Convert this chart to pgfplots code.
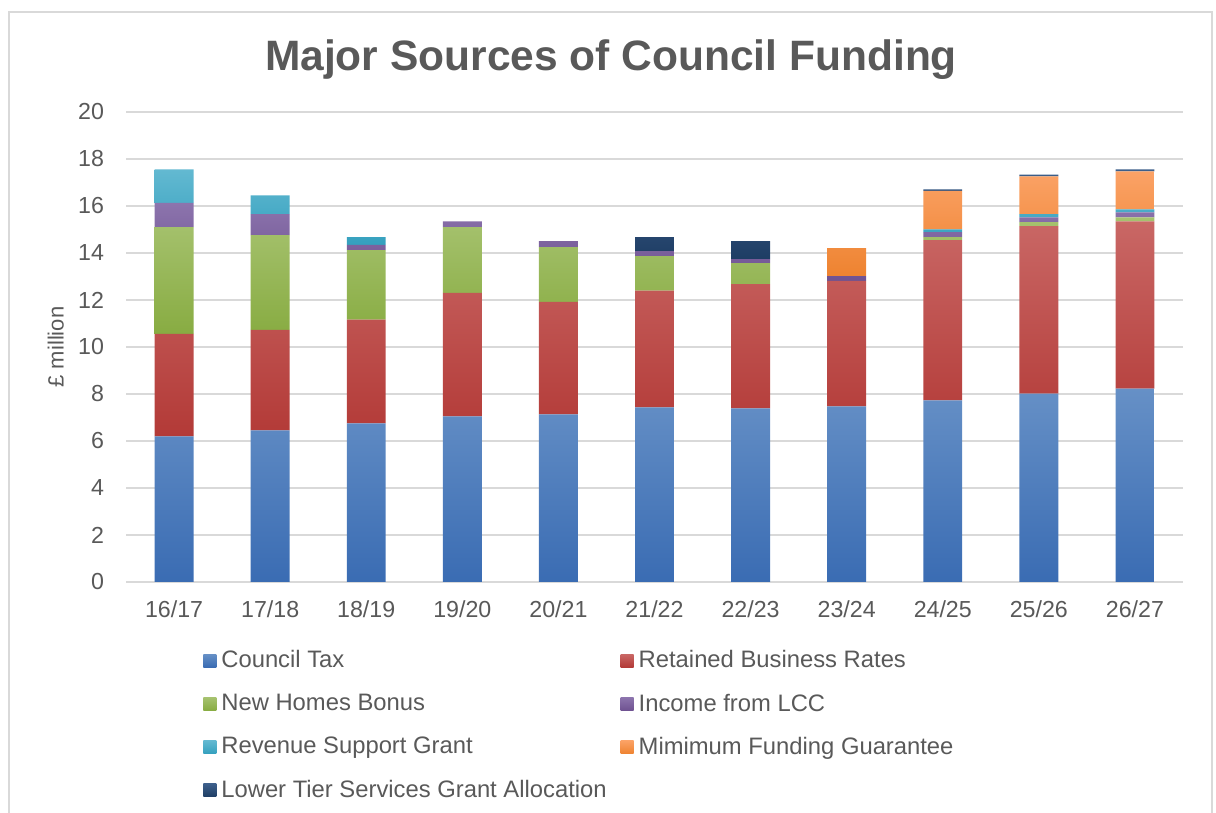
\documentclass[border=0pt]{standalone}
\usepackage{fontspec}
\setmainfont{Liberation Sans}
\usepackage{pgfplots}
\usepackage{pgfplotstable}
\pgfplotsset{compat=1.18}

\definecolor{gridgrey}{HTML}{D9D9D9}
\definecolor{txtgrey}{HTML}{595959}
\definecolor{ctT}{HTML}{6690C6}\definecolor{ctB}{HTML}{3A6CB3}
\definecolor{rbT}{HTML}{C96765}\definecolor{rbB}{HTML}{B33A37}
\definecolor{nhT}{HTML}{A6C26F}\definecolor{nhB}{HTML}{88AC42}
\definecolor{lcT}{HTML}{8C74AD}\definecolor{lcB}{HTML}{6F5291}
\definecolor{rsT}{HTML}{63B9D1}\definecolor{rsB}{HTML}{34A0BE}
\definecolor{mfT}{HTML}{FBA266}\definecolor{mfB}{HTML}{EE8330}
\definecolor{ltT}{HTML}{3D5F8A}\definecolor{ltB}{HTML}{1E3D64}

% values in £ million
\pgfplotstableread{
x  ct   rbr  nhb  lcc  rsg  mfg  ltsg
0  6.20 4.36 4.54 1.03 1.43 0    0
1  6.45 4.28 4.03 0.89 0.80 0    0
2  6.75 4.41 2.96 0.23 0.33 0    0
3  7.05 5.25 2.80 0.25 0    0    0
4  7.13 4.79 2.33 0.26 0    0    0
5  7.43 4.97 1.47 0.21 0    0    0.60
6  7.39 5.29 0.89 0.17 0    0    0.77
7  7.47 5.34 0    0.21 0    1.19 0
8  7.73 6.82 0.13 0.21 0.12 1.63 0.07
9  8.02 7.12 0.17 0.21 0.13 1.61 0.08
10 8.23 7.12 0.17 0.21 0.13 1.61 0.09
}\funding

\begin{document}
\begin{tikzpicture}
\useasboundingbox (0,0) rectangle (608pt,406.5pt);
\draw[gridgrey, line width=0.75pt] (4.5pt,0) -- (4.5pt,400.5pt) -- (606pt,400.5pt) -- (606pt,0);
\node[font=\bfseries\fontsize{21.25}{24}\selectfont, text=txtgrey] at (305.5pt,376.8pt) {Major Sources of Council Funding};
\begin{axis}[
    at={(63pt,115.5pt)}, anchor=south west,
    scale only axis, width=528.5pt, height=235pt,
    ybar stacked, bar width=0.405,
    xmin=-0.5, xmax=10.5, ymin=0, ymax=20,
    ytick={0,2,...,20},
    xtick=data,
    xticklabels={16/17,17/18,18/19,19/20,20/21,21/22,22/23,23/24,24/25,25/26,26/27},
    ymajorgrids, grid style={draw=gridgrey, line width=0.75pt},
    axis line style={draw=none}, major tick style={draw=none},
    /pgf/number format/assume math mode=true,
    tick label style={font=\fontsize{11.6}{13}\selectfont, text=txtgrey},
    xticklabel style={yshift=-6pt},
    yticklabel style={xshift=-7.5pt},
    ylabel={£ million},
    ylabel style={at={(axis description cs:-0.0665,0.5)}, anchor=center,
        font=\fontsize{11}{13}\selectfont, text=txtgrey},
    legend columns=2,
    legend cell align=left,
    legend image code/.code={\path[#1, draw=none] (0pt,-3.25pt) rectangle (6.5pt,3.25pt);},
    legend style={at={(axis description cs:0.0728,-0.145)}, anchor=north west,
        draw=none, fill=none, inner sep=0pt,
        font=\fontsize{11.9}{13}\selectfont, text=txtgrey,
        nodes={inner xsep=2.5pt, inner ysep=0pt},
        row sep=11.5pt,
        /tikz/every even column/.append style={column sep=4.5pt}},
]
\addplot[draw=none, top color=ctT, bottom color=ctB] table[x=x, y=ct] {\funding};
\addplot[draw=none, top color=rbT, bottom color=rbB] table[x=x, y=rbr] {\funding};
\addplot[draw=none, top color=nhT, bottom color=nhB] table[x=x, y=nhb] {\funding};
\addplot[draw=none, top color=lcT, bottom color=lcB] table[x=x, y=lcc] {\funding};
\addplot[draw=none, top color=rsT, bottom color=rsB] table[x=x, y=rsg] {\funding};
\addplot[draw=none, top color=mfT, bottom color=mfB] table[x=x, y=mfg] {\funding};
\addplot[draw=none, top color=ltT, bottom color=ltB] table[x=x, y=ltsg] {\funding};
\legend{Council Tax, Retained Business Rates, New Homes Bonus, Income from LCC,
        Revenue Support Grant, Mimimum Funding Guarantee, Lower Tier Services Grant Allocation}
\end{axis}
\end{tikzpicture}
\end{document}
